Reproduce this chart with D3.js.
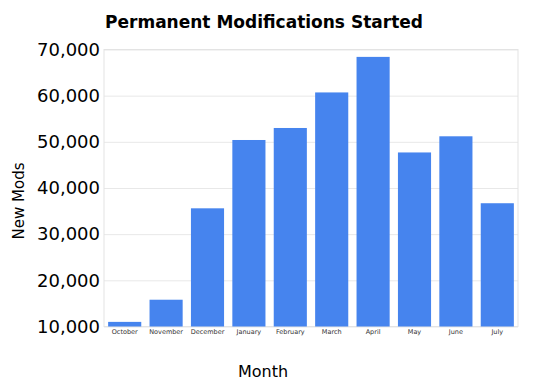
<!DOCTYPE html>
<html>
<head>
<meta charset="utf-8">
<script src="https://cdn.jsdelivr.net/npm/d3@7"></script>
<style>
  body { margin: 0; background: #fff; }
  svg { font-family: "DejaVu Sans", sans-serif; }
  .grid line { stroke: #e8e8e8; }
  .grid path { display: none; }
  .yAxis path, .yAxis line { display: none; }
  .xAxis path, .xAxis line { display: none; }
</style>
</head>
<body>
<script>
var w = 550;
var h = 390;

var months = ["October", "November", "December", "January", "February",
              "March", "April", "May", "June", "July"];
var newMods = [11000, 15800, 35600, 50400, 53000, 60700, 68400, 47700, 51200, 36700];
var yTicks = [10000, 20000, 30000, 40000, 50000, 60000, 70000];

var padLeft = 104, padRight = 518, padTop = 49.5, padBottom = 326.5;

var xScale = d3.scaleBand()
               .domain(months)
               .range([padLeft, padRight])
               .paddingInner(0.2)
               .paddingOuter(0.1);

var yScale = d3.scaleLinear()
               .domain([10000, 70000])
               .range([padBottom, padTop]);

var svg = d3.select("body")
            .append("svg")
            .attr("width", w)
            .attr("height", h);

// gridlines
svg.append("g")
   .attr("class", "grid")
   .attr("transform", "translate(" + padLeft + ",0)")
   .call(d3.axisLeft(yScale).tickValues(yTicks).tickSize(-(padRight - padLeft)).tickFormat(""));

// plot frame
svg.append("rect")
   .attr("x", padLeft)
   .attr("y", padTop)
   .attr("width", padRight - padLeft)
   .attr("height", padBottom - padTop)
   .attr("fill", "none")
   .attr("stroke", "#e3e3e3");

// bars
svg.selectAll("rect.bar")
   .data(newMods)
   .enter()
   .append("rect")
   .attr("class", "bar")
   .attr("x", function(d, i) { return xScale(months[i]); })
   .attr("y", function(d) { return yScale(d); })
   .attr("width", xScale.bandwidth())
   .attr("height", function(d) { return padBottom - yScale(d); })
   .attr("fill", "#4684ee");

// y axis labels
svg.append("g")
   .attr("class", "yAxis")
   .attr("transform", "translate(" + (padLeft - 4) + ",0)")
   .call(d3.axisLeft(yScale).tickValues(yTicks).tickSize(0).tickPadding(0)
           .tickFormat(d3.format(",")))
   .selectAll("text")
   .attr("font-size", 18)
   .attr("font-family", "DejaVu Sans")
   .attr("fill", "#000");

// x axis labels
svg.append("g")
   .attr("class", "xAxis")
   .attr("transform", "translate(0," + padBottom + ")")
   .call(d3.axisBottom(xScale).tickSize(0).tickPadding(3))
   .selectAll("text")
   .attr("font-size", 6.5)
   .attr("font-family", "DejaVu Sans")
   .attr("fill", "#333");

// title
svg.append("text")
   .attr("x", 264)
   .attr("y", 28)
   .attr("text-anchor", "middle")
   .attr("font-size", 17)
   .attr("font-weight", "bold")
   .text("Permanent Modifications Started");

// axis titles
svg.append("text")
   .attr("x", 263)
   .attr("y", 377)
   .attr("text-anchor", "middle")
   .attr("font-size", 16)
   .text("Month");

svg.append("text")
   .attr("transform", "translate(24,201) rotate(-90)")
   .attr("text-anchor", "middle")
   .attr("font-size", 15)
   .text("New Mods");
</script>
</body>
</html>
